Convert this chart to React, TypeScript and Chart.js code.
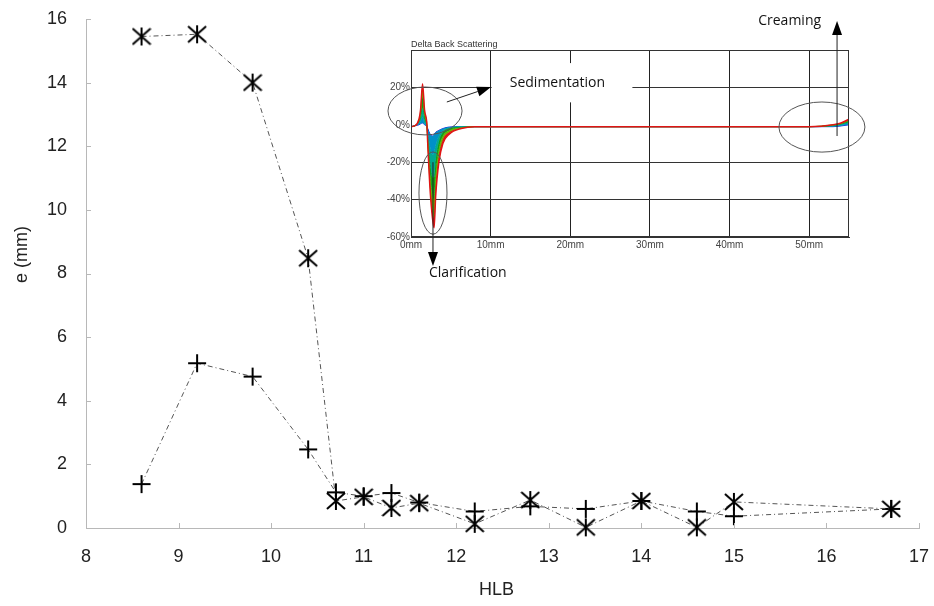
import React, { useEffect, useRef } from "react";
import { Chart, registerables } from "chart.js";

Chart.register(...registerables);

// ---------- main chart data ----------
const hlbValues = [8.6, 9.2, 9.8, 10.4, 10.7, 11.0, 11.3, 11.6, 12.2, 12.8, 13.4, 14.0, 14.6, 15.0, 16.7];
const starSeries = [15.45, 15.52, 14.0, 8.48, 0.85, 0.98, 0.63, 0.78, 0.13, 0.88, 0.02, 0.85, 0.02, 0.82, 0.6];
const plusSeries = [1.38, 5.18, 4.76, 2.47, 1.12, 1.0, 1.1, 0.8, 0.52, 0.68, 0.6, 0.85, 0.52, 0.37, 0.6];
const hlbTicks = [8, 9, 10, 11, 12, 13, 14, 15, 16, 17];
const eTicks = [0, 2, 4, 6, 8, 10, 12, 14, 16];
const xTitle = "HLB";
const yTitle = "e (mm)";

// ---------- inset data (Delta Back Scattering) ----------
const insetTitle = "Delta Back Scattering";
const positionMm = [0, 0.5, 1.0, 1.2, 1.45, 1.7, 2.0, 2.1, 2.4, 2.7, 2.9, 3.1, 3.5, 4.0, 4.8, 6.3, 8, 15, 25, 35, 45, 50, 53, 54, 55];
const curveBlue = [-1, -0.5, 0, 0.5, 1, 0, -1, -2, -5, -6, -5, -4, -3, -2, -1.2, -1, -1, -1, -1, -1, -1, -1, -1, -0.6, 0];
const curveCyan = [-1, -0.5, 1, 2, 4, 1, -1, -4, -12, -16, -15, -11, -6, -3, -1.6, -1, -1, -1, -1, -1, -1, -1, -0.6, 0, 1];
const curveTeal = [-1, -0.5, 1.5, 3, 9, 3, -1, -6, -20, -28, -28, -19, -9, -4, -2, -1.2, -1, -1, -1, -1, -1, -1, -0.5, 0.3, 1.5];
const curveGreen = [-1, -0.5, 2, 5, 15, 5, -1, -8, -27, -38, -40, -27, -13, -6, -3, -1.5, -1, -1, -1, -1, -1, -1, -0.2, 0.6, 2];
const curveLime = [-1, -0.5, 2.5, 7, 19, 7, 0, -9, -32, -46, -50, -34, -17, -8, -4, -1.8, -1, -1, -1, -1, -1, -1, 0, 0.8, 2.5];
const curveRed = [-1, -0.5, 3, 8, 22, 8, 0, -10, -35, -50, -55, -38, -20, -10, -5, -2, -1, -1, -1, -1, -1, -1, 0, 1, 3];
const insetXTicks = [0, 10, 20, 30, 40, 50];
const insetYTicks = [-60, -40, -20, 0, 20];

const sansFamily = '"Liberation Sans", Arial, sans-serif';

function makeMarker(kind: string): HTMLCanvasElement {
  const c = document.createElement("canvas");
  c.width = 20;
  c.height = 20;
  const g = c.getContext("2d")!;
  g.strokeStyle = "#000";
  g.lineWidth = 2;
  g.beginPath();
  if (kind === "star") {
    g.moveTo(1, 2);
    g.lineTo(19, 18);
    g.moveTo(19, 2);
    g.lineTo(1, 18);
    g.moveTo(10, 1);
    g.lineTo(10, 19);
  } else {
    g.moveTo(1, 10);
    g.lineTo(19, 10);
    g.moveTo(10, 1);
    g.lineTo(10, 19);
  }
  g.stroke();
  return c;
}

const mainDecor = {
  id: "mainDecor",
  afterDraw(chart: any) {
    const { ctx, chartArea: a, scales } = chart;
    const x = scales.x;
    const y = scales.y;
    ctx.save();
    ctx.strokeStyle = "#b8b8b8";
    ctx.lineWidth = 1;
    ctx.beginPath();
    hlbTicks.forEach((v) => {
      const px = Math.round(x.getPixelForValue(v)) + 0.5;
      ctx.moveTo(px, a.bottom);
      ctx.lineTo(px, a.bottom - 5);
    });
    eTicks.forEach((v) => {
      const py = Math.round(y.getPixelForValue(v)) + 0.5;
      ctx.moveTo(a.left, py);
      ctx.lineTo(a.left + 5, py);
    });
    ctx.stroke();
    ctx.fillStyle = "#222";
    ctx.font = `18px ${sansFamily}`;
    ctx.textAlign = "center";
    ctx.textBaseline = "middle";
    ctx.fillText(xTitle, (a.left + a.right) / 2 - 6, a.bottom + 62);
    ctx.translate(a.left - 64, (a.top + a.bottom) / 2 - 19);
    ctx.rotate(-Math.PI / 2);
    ctx.fillText(yTitle, 0, 0);
    ctx.restore();
  },
};

function drawArrow(ctx: CanvasRenderingContext2D, x1: number, y1: number, x2: number, y2: number) {
  const ang = Math.atan2(y2 - y1, x2 - x1);
  const len = 14;
  const hw = 5;
  const bx = x2 - len * Math.cos(ang);
  const by = y2 - len * Math.sin(ang);
  ctx.beginPath();
  ctx.moveTo(x1, y1);
  ctx.lineTo(bx, by);
  ctx.stroke();
  ctx.beginPath();
  ctx.moveTo(x2, y2);
  ctx.lineTo(bx + hw * Math.sin(ang), by - hw * Math.cos(ang));
  ctx.lineTo(bx - hw * Math.sin(ang), by + hw * Math.cos(ang));
  ctx.closePath();
  ctx.fill();
}

const insetDecor = {
  id: "insetDecor",
  afterDraw(chart: any) {
    const { ctx, chartArea: a, scales } = chart;
    const px = (v: number) => scales.x.getPixelForValue(v);
    const py = (v: number) => scales.y.getPixelForValue(v);
    ctx.save();
    // frame
    ctx.strokeStyle = "#333";
    ctx.lineWidth = 1;
    ctx.strokeRect(a.left + 0.5, a.top + 0.5, a.right - a.left - 1, a.bottom - a.top - 1);
    // title
    ctx.fillStyle = "#333";
    ctx.font = `9px ${sansFamily}`;
    ctx.textAlign = "left";
    ctx.textBaseline = "alphabetic";
    ctx.fillText(insetTitle, a.left, a.top - 3);
    // white label box
    ctx.fillStyle = "#fff";
    ctx.fillRect(px(10) + 1, py(33), px(27.8) - px(10) - 1, py(12) - py(33));
    // ellipses
    ctx.strokeStyle = "#555";
    ctx.lineWidth = 1;
    const ell = (cx: number, cy: number, rx: number, ry: number) => {
      const X = px(cx);
      const Y = py(cy);
      const RX = Math.abs(px(cx + rx) - X);
      const RY = Math.abs(py(cy + ry) - Y);
      ctx.beginPath();
      ctx.ellipse(X, Y, RX, RY, 0, 0, Math.PI * 2);
      ctx.stroke();
    };
    ell(1.76, 7.4, 4.65, 12.8);
    ell(2.76, -36.5, 1.76, 22);
    ell(51.6, -1.2, 5.4, 13.4);
    // arrows
    ctx.strokeStyle = "#222";
    ctx.fillStyle = "#000";
    drawArrow(ctx, px(4.5), py(12.2), px(10.05), py(20.2));
    drawArrow(ctx, px(2.76), py(-20), px(2.76), py(-75.5));
    drawArrow(ctx, px(53.5), py(-6), px(53.5), py(55.5));
    // labels
    ctx.fillStyle = "#111";
    ctx.font = '14px "Open Sans", "Liberation Sans", sans-serif';
    ctx.textBaseline = "middle";
    ctx.textAlign = "left";
    ctx.fillText("Sedimentation", px(12.4), py(22.4));
    ctx.fillText("Clarification", px(2.26), py(-79.3));
    ctx.fillText("Creaming", px(43.6), py(55.5));
    ctx.restore();
  },
};

export default function App() {
  const mainRef = useRef<HTMLCanvasElement>(null);
  const insetRef = useRef<HTMLCanvasElement>(null);

  useEffect(() => {
    const starImg = makeMarker("star");
    const plusImg = makeMarker("plus");
    const tickFont = { family: sansFamily, size: 18 };

    const main = new Chart(mainRef.current!, {
      type: "line",
      data: {
        datasets: [
          {
            data: hlbValues.map((x, i) => ({ x, y: starSeries[i] })),
            borderColor: "#555",
            borderWidth: 1,
            borderDash: [5, 3, 1, 3],
            pointStyle: starImg as any,
            pointRadius: 9,
            fill: false,
            clip: false,
          },
          {
            data: hlbValues.map((x, i) => ({ x, y: plusSeries[i] })),
            borderColor: "#555",
            borderWidth: 1,
            borderDash: [5, 3, 1, 3],
            pointStyle: plusImg as any,
            pointRadius: 9,
            fill: false,
            clip: false,
          },
        ],
      },
      options: {
        animation: false,
        responsive: false,
        maintainAspectRatio: false,
        devicePixelRatio: 1,
        layout: { autoPadding: false, padding: { top: 19, right: 15, left: 0, bottom: 0 } },
        plugins: { legend: { display: false }, tooltip: { enabled: false } },
        scales: {
          x: {
            type: "linear",
            min: 8,
            max: 17,
            afterBuildTicks: (s: any) => {
              s.ticks = hlbTicks.map((v) => ({ value: v }));
            },
            afterFit: (s: any) => {
              s.height = 78;
              s.paddingLeft = 0;
              s.paddingRight = 0;
            },
            grid: { drawOnChartArea: false, drawTicks: false },
            border: { color: "#b8b8b8" },
            ticks: { padding: 18, font: tickFont, color: "#222", maxRotation: 0 },
          },
          y: {
            type: "linear",
            min: 0,
            max: 16,
            afterBuildTicks: (s: any) => {
              s.ticks = eTicks.map((v) => ({ value: v }));
            },
            afterFit: (s: any) => {
              s.width = 86;
              s.paddingTop = 0;
              s.paddingBottom = 0;
            },
            grid: { drawOnChartArea: false, drawTicks: false },
            border: { color: "#b8b8b8" },
            ticks: { padding: 19, font: tickFont, color: "#222" },
          },
        },
      },
      plugins: [mainDecor],
    } as any);

    const curves = [
      { d: curveBlue, c: "#1a1ad8", order: 6 },
      { d: curveCyan, c: "#0090c8", order: 5 },
      { d: curveTeal, c: "#00a890", order: 4 },
      { d: curveGreen, c: "#12a018", order: 3 },
      { d: curveLime, c: "#6cb000", order: 2 },
      { d: curveRed, c: "#e01414", order: 1 },
    ];
    const inset = new Chart(insetRef.current!, {
      type: "line",
      data: {
        datasets: curves.map((cv, i) => ({
          data: positionMm.map((x, j) => ({ x, y: cv.d[j] })),
          borderColor: cv.c,
          backgroundColor: cv.c,
          borderWidth: i === curves.length - 1 ? 1.5 : 1,
          pointRadius: 0,
          fill: i === 0 ? false : "-1",
          order: cv.order,
          cubicInterpolationMode: "monotone",
        })),
      },
      options: {
        animation: false,
        responsive: false,
        maintainAspectRatio: false,
        devicePixelRatio: 1,
        layout: { autoPadding: false, padding: { top: 50, right: 21, left: 0, bottom: 0 } },
        plugins: { legend: { display: false }, tooltip: { enabled: false } },
        scales: {
          x: {
            type: "linear",
            min: 0,
            max: 55,
            afterBuildTicks: (s: any) => {
              s.ticks = insetXTicks.map((v) => ({ value: v }));
            },
            afterFit: (s: any) => {
              s.height = 53;
              s.paddingLeft = 0;
              s.paddingRight = 0;
            },
            grid: { color: "#222", drawTicks: false },
            border: { color: "#333" },
            ticks: {
              padding: 2,
              font: { family: sansFamily, size: 10 },
              color: "#444",
              maxRotation: 0,
              callback: (v: any) => `${v}mm`,
            },
          },
          y: {
            type: "linear",
            min: -60,
            max: 40,
            afterBuildTicks: (s: any) => {
              s.ticks = insetYTicks.map((v) => ({ value: v }));
            },
            afterFit: (s: any) => {
              s.width = 41;
              s.paddingTop = 0;
              s.paddingBottom = 0;
            },
            grid: {
              color: (c: any) => (c.tick && c.tick.value === 0 ? "rgba(0,0,0,0)" : "#333"),
              drawTicks: false,
            },
            border: { color: "#333" },
            ticks: {
              padding: 1,
              font: { family: sansFamily, size: 10 },
              color: "#444",
              callback: (v: any) => `${v}%`,
            },
          },
        },
      },
      plugins: [insetDecor],
    } as any);

    return () => {
      main.destroy();
      inset.destroy();
    };
  }, []);

  return (
    <div style={{ position: "absolute", left: 0, top: 0, width: 934, height: 606, background: "#fff" }}>
      <canvas
        ref={mainRef}
        width={934}
        height={606}
        style={{ position: "absolute", left: 0, top: 0, width: 934, height: 606 }}
      />
      <canvas
        ref={insetRef}
        width={500}
        height={290}
        style={{ position: "absolute", left: 370, top: 0, width: 500, height: 290 }}
      />
    </div>
  );
}
